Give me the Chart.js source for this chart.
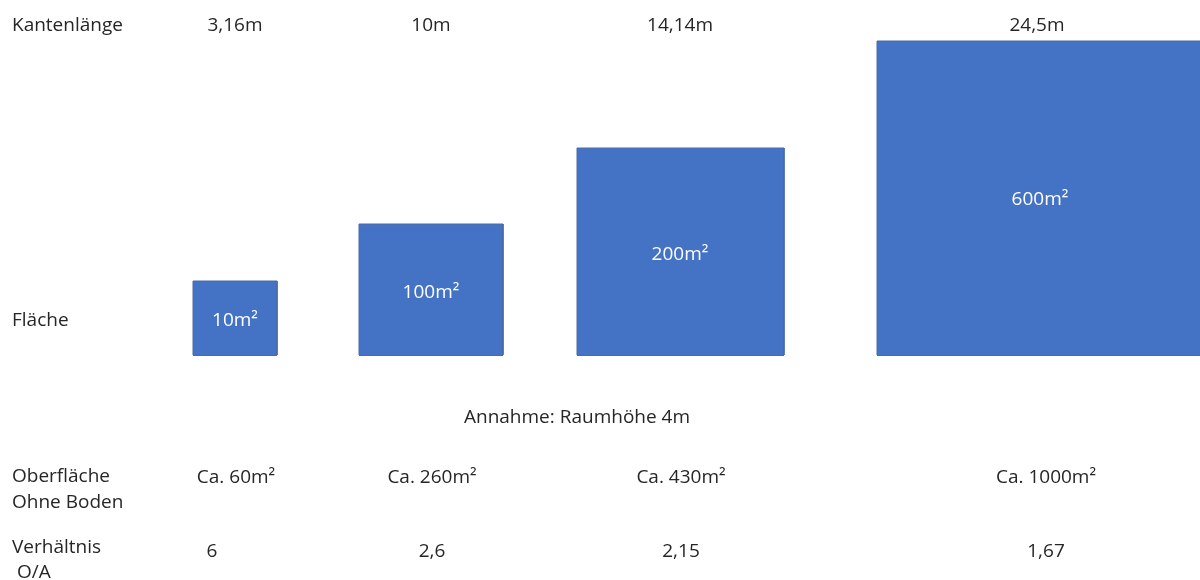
<!DOCTYPE html>
<html><head><meta charset="utf-8">
<script src="https://cdn.jsdelivr.net/npm/chart.js@4"></script>
<style>html,body{margin:0;padding:0;background:#fff}#wrap{width:1200px;height:580px}</style>
</head><body><div id="wrap"><canvas id="c" width="1200" height="580"></canvas></div>
<script>
// Data
const rowLabels = [['Kantenlänge'], ['Fläche'], ['Oberfläche', 'Ohne Boden'], ['Verhältnis', ' O/A']];
const edgeLengths = ['3,16m', '10m', '14,14m', '24,5m'];
const areaLabels = ['10m²', '100m²', '200m²', '600m²'];
const surfaceLabels = ['Ca. 60m²', 'Ca. 260m²', 'Ca. 430m²', 'Ca. 1000m²'];
const ratioLabels = ['6', '2,6', '2,15', '1,67'];
const note = 'Annahme: Raumhöhe 4m';
// drawn square extents (diagram units)
const squareLeft = [193, 359, 577, 877];
const squareRight = [277, 503, 784, 1206];
const squareHeight = [74, 131, 207, 314];

const FONT = '"Open Sans", Lato, sans-serif';
const EDGE = '#4A6BA8';
const datasets = squareLeft.map((x0, i) => ({
  data: [{x: x0, y: 0}, {x: x0, y: squareHeight[i]}, {x: squareRight[i], y: squareHeight[i]}, {x: squareRight[i], y: 0}],
  borderColor: EDGE, borderWidth: 1, backgroundColor: '#4472C4',
  fill: 'origin', pointRadius: 0, tension: 0, clip: false
}));

const textPlugin = {
  id: 'texts',
  afterDatasetsDraw(chart) {
    const {ctx, scales: {x, y}} = chart;
    // bottom edges of the squares, along the baseline value 0
    ctx.save();
    ctx.strokeStyle = EDGE;
    ctx.lineWidth = 1;
    squareLeft.forEach((x0, i) => {
      const py = Math.round(y.getPixelForValue(0)) + 0.5;
      ctx.beginPath();
      ctx.moveTo(x.getPixelForValue(x0), py);
      ctx.lineTo(x.getPixelForValue(squareRight[i]), py);
      ctx.stroke();
    });
    ctx.restore();
    const put = (t, xv, yv, align, color) => {
      ctx.fillStyle = color || '#262626';
      ctx.textAlign = align || 'center';
      ctx.textBaseline = 'middle';
      ctx.fillText(t, x.getPixelForValue(xv), y.getPixelForValue(yv));
    };
    ctx.save();
    ctx.font = '19px ' + FONT;
    const rowY = [[329], [34], [-122, -148], [-193, -218]];
    rowLabels.forEach((lines, i) => lines.forEach((l, j) => put(l, 12, rowY[i][j], 'left')));
    const topX = [235, 431, 680, 1037];
    edgeLengths.forEach((t, i) => put(t, topX[i], 329));
    const inY = [34, 62, 100, 155];
    const inX = [235, 431, 680, 1040];
    areaLabels.forEach((t, i) => put(t, inX[i], inY[i], 'center', '#ffffff'));
    put(note, 577, -63);
    const surfX = [236, 432, 681, 1046];
    surfaceLabels.forEach((t, i) => put(t, surfX[i], -123));
    const ratX = [212, 432, 681, 1046];
    ratioLabels.forEach((t, i) => put(t, ratX[i], -197));
    ctx.restore();
  }
};

new Chart(document.getElementById('c'), {
  type: 'line',
  data: {datasets},
  options: {
    responsive: false, animation: false,
    layout: {padding: 0},
    plugins: {legend: {display: false}, tooltip: {enabled: false}, filler: {propagate: false}},
    scales: {
      x: {type: 'linear', min: 0, max: 1200, display: false},
      y: {type: 'linear', min: -225, max: 355, display: false}
    }
  },
  plugins: [textPlugin]
});
</script></body></html>
